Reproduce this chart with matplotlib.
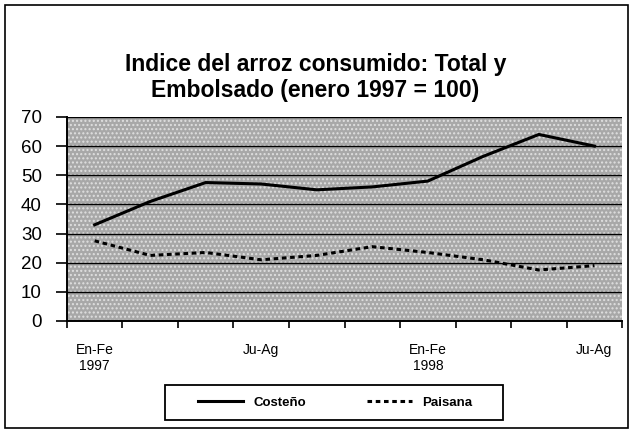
import matplotlib
matplotlib.use("Agg")
import matplotlib.pyplot as plt
from matplotlib.patches import Rectangle

plt.rcParams['font.family'] = ['Liberation Sans', 'DejaVu Sans']

periods = ["En-Fe\n1997", "Ma-Ab", "My-Jn", "Ju-Ag", "Se-Oc", "No-Di",
           "En-Fe\n1998", "Ma-Ab", "My-Jn", "Ju-Ag"]
shown = [0, 3, 6, 9]
costeno = [33, 41, 47.5, 47, 45, 46, 48, 56.5, 64, 60]
paisana = [27.5, 22.5, 23.5, 21, 22.5, 25.5, 23.5, 21, 17.5, 19]

fig = plt.figure(figsize=(6.31, 4.30), dpi=100)
ax = fig.add_axes([0.106, 0.2535, 0.880, 0.4745])

ax.set_facecolor("#a8a8a8")
ax.add_patch(Rectangle((0, 0), 1, 1, transform=ax.transAxes, facecolor="none",
                       edgecolor="#e0e0e0", hatch="....", linewidth=0, zorder=0))

x = list(range(len(periods)))
ax.plot(x, costeno, color="black", lw=2.2, label="Costeño", zorder=3)
ax.plot(x, paisana, color="black", lw=2.2, ls=(0, (1.5, 1.2)), label="Paisana", zorder=3)

ax.set_xlim(-0.5, len(periods) - 0.5)
ax.set_ylim(0, 70)
ax.set_yticks(range(0, 71, 10))
ax.yaxis.grid(True, color="black", lw=1.0)
ax.set_axisbelow(True)

ax.set_xticks([i - 0.5 for i in range(len(periods) + 1)])
ax.set_xticklabels([])
ax.set_xticks(shown, [periods[i] for i in shown], minor=True)
ax.tick_params(axis="x", which="minor", length=0, labelsize=10, pad=16)
ax.tick_params(axis="x", which="major", length=5, width=1.2, direction="out")
ax.tick_params(axis="y", labelsize=13.5, length=8, width=1.2, pad=10)

for side in ["top", "right"]:
    ax.spines[side].set_visible(False)
for side in ["left", "bottom"]:
    ax.spines[side].set_linewidth(1.4)

fig.text(0.5, 0.82, "Indice del arroz consumido: Total y\nEmbolsado (enero 1997 = 100)",
         ha="center", va="center", fontsize=16.5, fontweight="bold", linespacing=1.2)

# legend entries without frame, box drawn separately (wider side padding)
leg = fig.legend(loc="center", bbox_to_anchor=(0.531, 0.064), ncol=2, fontsize=9.5,
                 frameon=False, handlelength=3.4, columnspacing=4.6,
                 handletextpad=0.8)
for t in leg.get_texts():
    t.set_fontweight("bold")
fig.patches.append(Rectangle((0.2615, 0.0233), 0.5355, 0.0814, transform=fig.transFigure,
                             fill=False, edgecolor="black", lw=1.3))

fig.patches.append(Rectangle((0.008, 0.004), 0.988, 0.984, transform=fig.transFigure,
                             fill=False, edgecolor="black", lw=1.2))

fig.savefig("out.png", dpi=100)
